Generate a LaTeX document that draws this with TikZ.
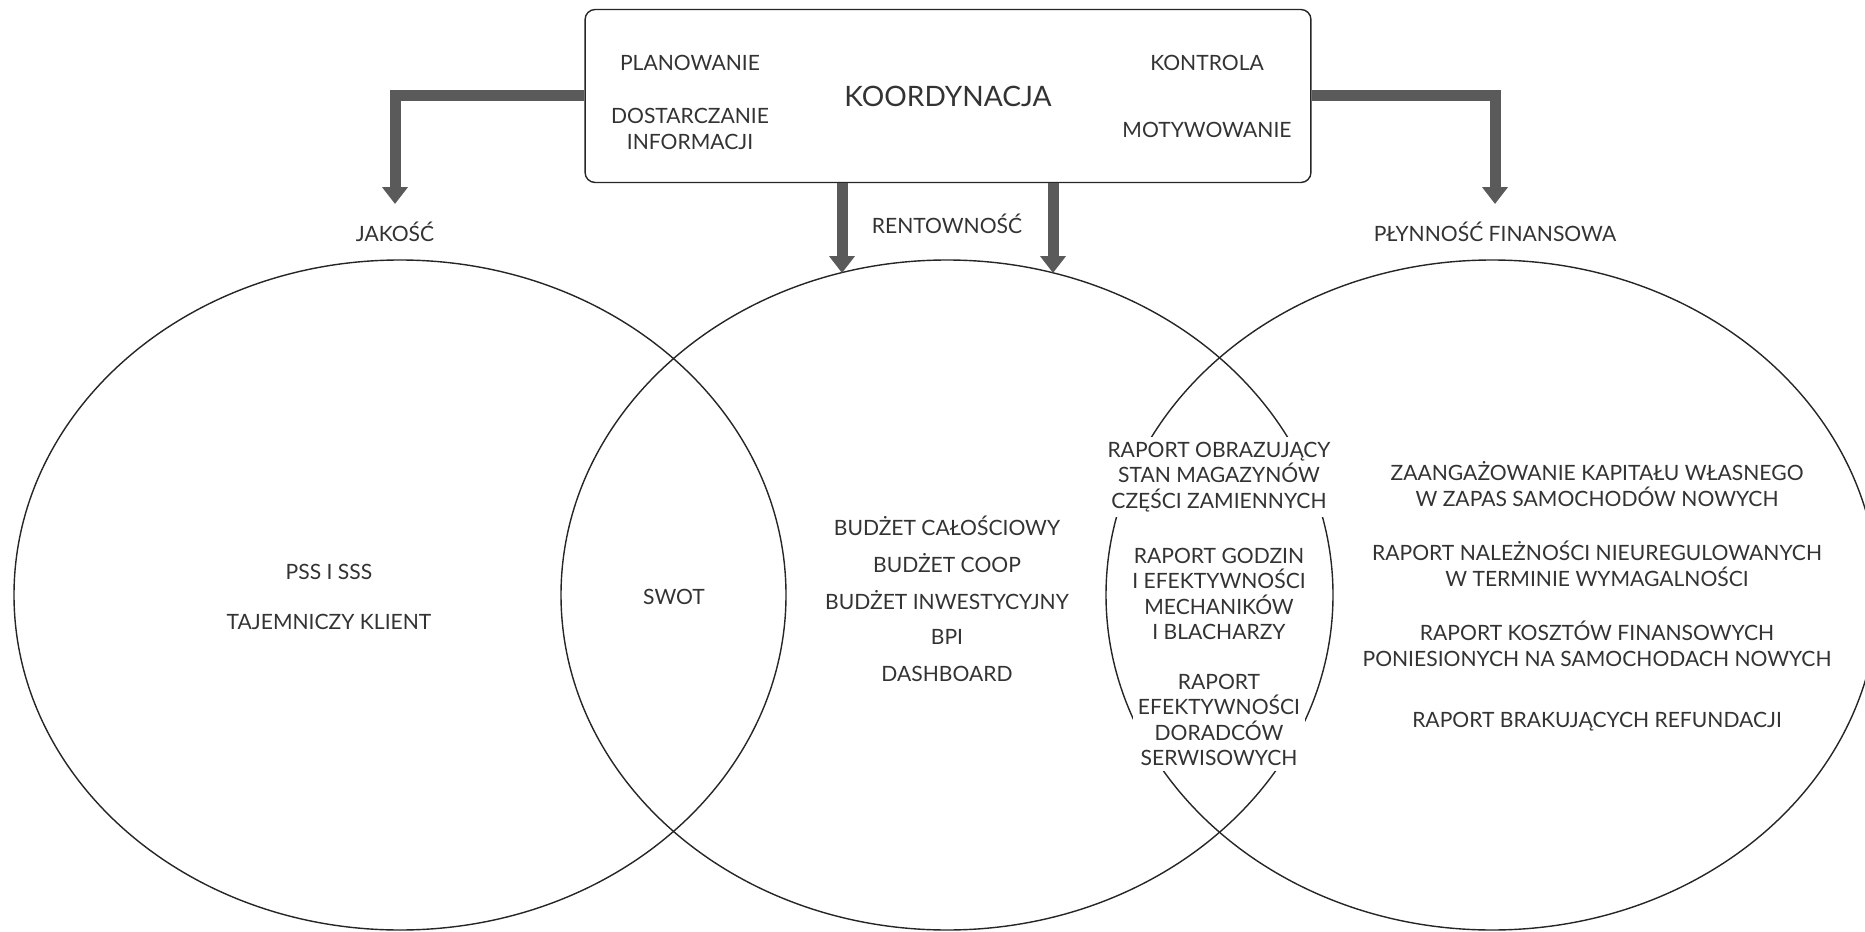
\documentclass[tikz,border=0pt]{standalone}
\usepackage{fontspec}
\setmainfont{Lato}
\usetikzlibrary{arrows.meta}

\definecolor{gristexte}{HTML}{333333}
\definecolor{gristrait}{HTML}{262626}
\definecolor{grisfleche}{HTML}{5A5A5A}

\begin{document}
\begin{tikzpicture}[x=0.02cm, y=-0.02cm,
	txt/.style={text=gristexte, font=\fontsize{12}{14.5}\selectfont, align=center, inner sep=1pt},
	bloc/.style={txt, fill=white, inner sep=3pt},
	boite/.style={draw=gristrait, line width=0.8pt, rounded corners=0.2cm, minimum width=14.52cm, minimum height=3.46cm, text=gristexte, font=\fontsize{16}{19}\selectfont},
	fleche/.style={draw=grisfleche, line width=0.22cm, -{Triangle[width=0.5cm,length=0.34cm]}},
	cercle/.style={draw=gristrait, line width=0.8pt}
]

	\def\rx{386} % demi-axe horizontal des ellipses
	
	\def\ry{335} % demi-axe vertical des ellipses
	
	\def\cy{595} % hauteur des centres
	
	\useasboundingbox (0,0) rectangle (1865,932);
	
	\draw[cercle] (400, \cy) ellipse [x radius=\rx, y radius=\ry];
	\draw[cercle] (947, \cy) ellipse [x radius=\rx, y radius=\ry];
	\draw[cercle] (1492, \cy) ellipse [x radius=\rx, y radius=\ry];
	
	% boite du haut
	\node[boite] (koord) at (948, 96) {KOORDYNACJA};
	\node[txt] (plan) at (690, 63) {PLANOWANIE};
	\node[txt] (dost) at (690, 129) {DOSTARCZANIE\\INFORMACJI};
	\node[txt] (kontr) at (1207, 63) {KONTROLA};
	\node[txt] (motyw) at (1207, 130) {MOTYWOWANIE};
	
	% titres
	\node[txt] (jakosc) at (395, 232) {JAKOŚĆ};
	\node[txt] (rent) at (947, 224) {RENTOWNOŚĆ};
	\node[txt] (plyn) at (1495, 232) {PŁYNNOŚĆ FINANSOWA};
	
	\coordinate (pJ) at (395, 204);
	\coordinate (pP) at (1495, 204);
	\coordinate (pR1) at (842, 273);
	\coordinate (pR2) at (1053, 273);
	
	\draw[fleche] (koord.west) -| (pJ);
	\draw[fleche] (koord.east) -| (pP);
	\draw[fleche] (koord.south -| pR1) -- (pR1);
	\draw[fleche] (koord.south -| pR2) -- (pR2);
	
	% contenu des ellipses
	\node[txt] (pss) at (329, 572) {PSS I SSS};
	\node[txt] (klient) at (329, 622) {TAJEMNICZY KLIENT};
	\node[txt] (swot) at (674, 597) {SWOT};
	
	\foreach \t [count=\i] in {BUDŻET CAŁOŚCIOWY, BUDŻET COOP, BUDŻET INWESTYCYJNY, BPI, DASHBOARD} {
		\node[txt] (bud\i) at (947, 489+37*\i) {\t};
	}
	
	\node[bloc] (mag) at (1219, 477) {RAPORT OBRAZUJĄCY\\STAN MAGAZYNÓW\\CZĘŚCI ZAMIENNYCH};
	\node[bloc] (mech) at (1219, 594) {RAPORT GODZIN\\I EFEKTYWNOŚCI\\MECHANIKÓW\\I BLACHARZY};
	\node[bloc] (dor) at (1219, 720) {RAPORT\\EFEKTYWNOŚCI\\DORADCÓW\\SERWISOWYCH};
	
	\node[txt] (kap) at (1597, 484) {ZAANGAŻOWANIE KAPITAŁU WŁASNEGO\\W ZAPAS SAMOCHODÓW NOWYCH};
	\node[txt] (nal) at (1597, 564) {RAPORT NALEŻNOŚCI NIEUREGULOWANYCH\\W TERMINIE WYMAGALNOŚCI};
	\node[txt] (koszt) at (1597, 644) {RAPORT KOSZTÓW FINANSOWYCH\\PONIESIONYCH NA SAMOCHODACH NOWYCH};
	\node[txt] (ref) at (1597, 722) {RAPORT BRAKUJĄCYCH REFUNDACJI};

\end{tikzpicture}
\end{document}
